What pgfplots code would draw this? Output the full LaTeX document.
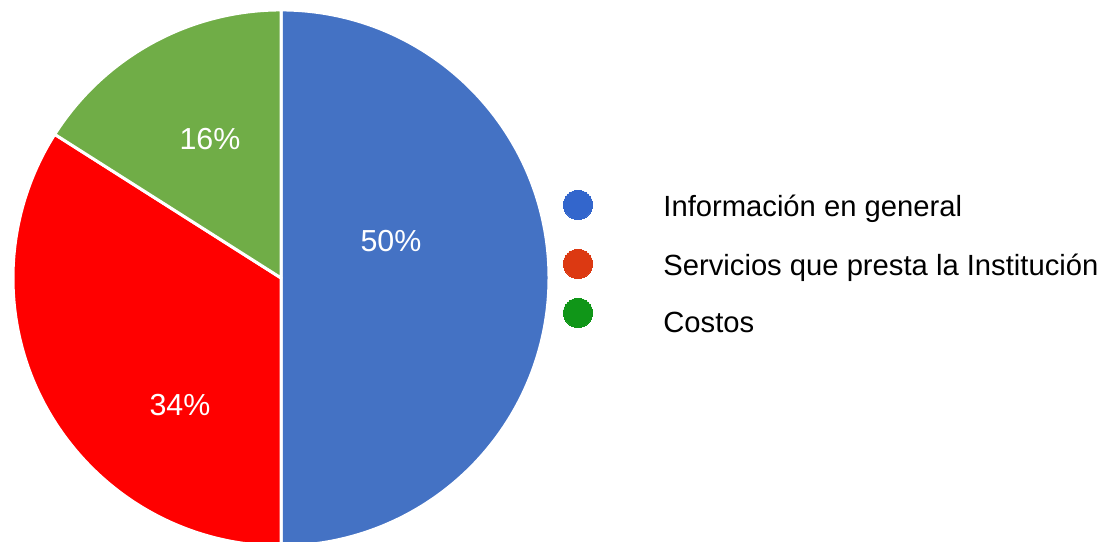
\documentclass[border=0pt]{standalone}
\usepackage{pgfplots}
\pgfplotsset{compat=1.18}
\usepackage{pgfplotstable}
\usepackage{fontspec}
\setmainfont{Liberation Sans}
\definecolor{sliceblue}{HTML}{4472C4}
\definecolor{slicered}{HTML}{FF0000}
\definecolor{slicegreen}{HTML}{70AD47}
\definecolor{legblue}{HTML}{3366CC}
\definecolor{legred}{HTML}{DC3912}
\definecolor{leggreen}{HTML}{109618}

% percentages of each slice, with label positions (pixel grid, y up)
\pgfplotstableread{
value lx ly
50 391 300
34 180 136
16 210 402
}\piedata

\begin{document}
\begin{tikzpicture}
\pgfplotstablegetelem{0}{value}\of\piedata \let\va\pgfplotsretval
\pgfplotstablegetelem{1}{value}\of\piedata \let\vb\pgfplotsretval
\pgfplotstablegetelem{2}{value}\of\piedata \let\vc\pgfplotsretval
\pgfmathsetmacro{\aA}{90}
\pgfmathsetmacro{\aB}{90-3.6*\va}
\pgfmathsetmacro{\aC}{\aB-3.6*\vb}
\pgfmathsetmacro{\aD}{\aC-3.6*\vc}
\def\R{134pt}
\begin{axis}[at={(0,0)},anchor=south west,scale only axis,
  width=553pt,height=270.5pt,xmin=0,xmax=1106,ymin=0,ymax=541,
  hide axis]
\filldraw[fill=sliceblue,draw=white,line width=1.5pt,line join=round]
  (axis cs:281,263) -- ++(\aA:\R) arc[start angle=\aA,end angle=\aB,radius=\R] -- cycle;
\filldraw[fill=slicered,draw=white,line width=1.5pt,line join=round]
  (axis cs:281,263) -- ++(\aB:\R) arc[start angle=\aB,end angle=\aC,radius=\R] -- cycle;
\filldraw[fill=slicegreen,draw=white,line width=1.5pt,line join=round]
  (axis cs:281,263) -- ++(\aC:\R) arc[start angle=\aC,end angle=\aD,radius=\R] -- cycle;
% slice labels
\addplot[only marks,mark=none,
  nodes near coords={\pgfmathprintnumber[fixed,precision=0,assume math mode=true]{\pgfplotspointmeta}\%},
  point meta=explicit,
  nodes near coords style={anchor=center,text=white,font=\fontsize{15.2pt}{18pt}\selectfont}]
  table[x=lx,y=ly,meta=value]{\piedata};
% legend markers
\addplot[legblue,only marks,mark=*,mark size=7.3pt,mark options={draw=legblue,fill=legblue,line width=0pt}] coordinates {(578,336)};
\addplot[legred,only marks,mark=*,mark size=7.3pt,mark options={draw=legred,fill=legred,line width=0pt}] coordinates {(578,277)};
\addplot[leggreen,only marks,mark=*,mark size=7.3pt,mark options={draw=leggreen,fill=leggreen,line width=0pt}] coordinates {(578,228)};
\node[anchor=base west,inner sep=0pt,font=\fontsize{14.6pt}{17pt}\selectfont] at (axis cs:663,324) {Información en general};
\node[anchor=base west,inner sep=0pt,font=\fontsize{14.6pt}{17pt}\selectfont] at (axis cs:663,265.5) {Servicios que presta la Institución};
\node[anchor=base west,inner sep=0pt,font=\fontsize{14.6pt}{17pt}\selectfont] at (axis cs:663,208) {Costos};
\end{axis}
\pgfresetboundingbox
\path[use as bounding box] (0,0) rectangle (553pt,270.5pt);
\end{tikzpicture}
\end{document}
